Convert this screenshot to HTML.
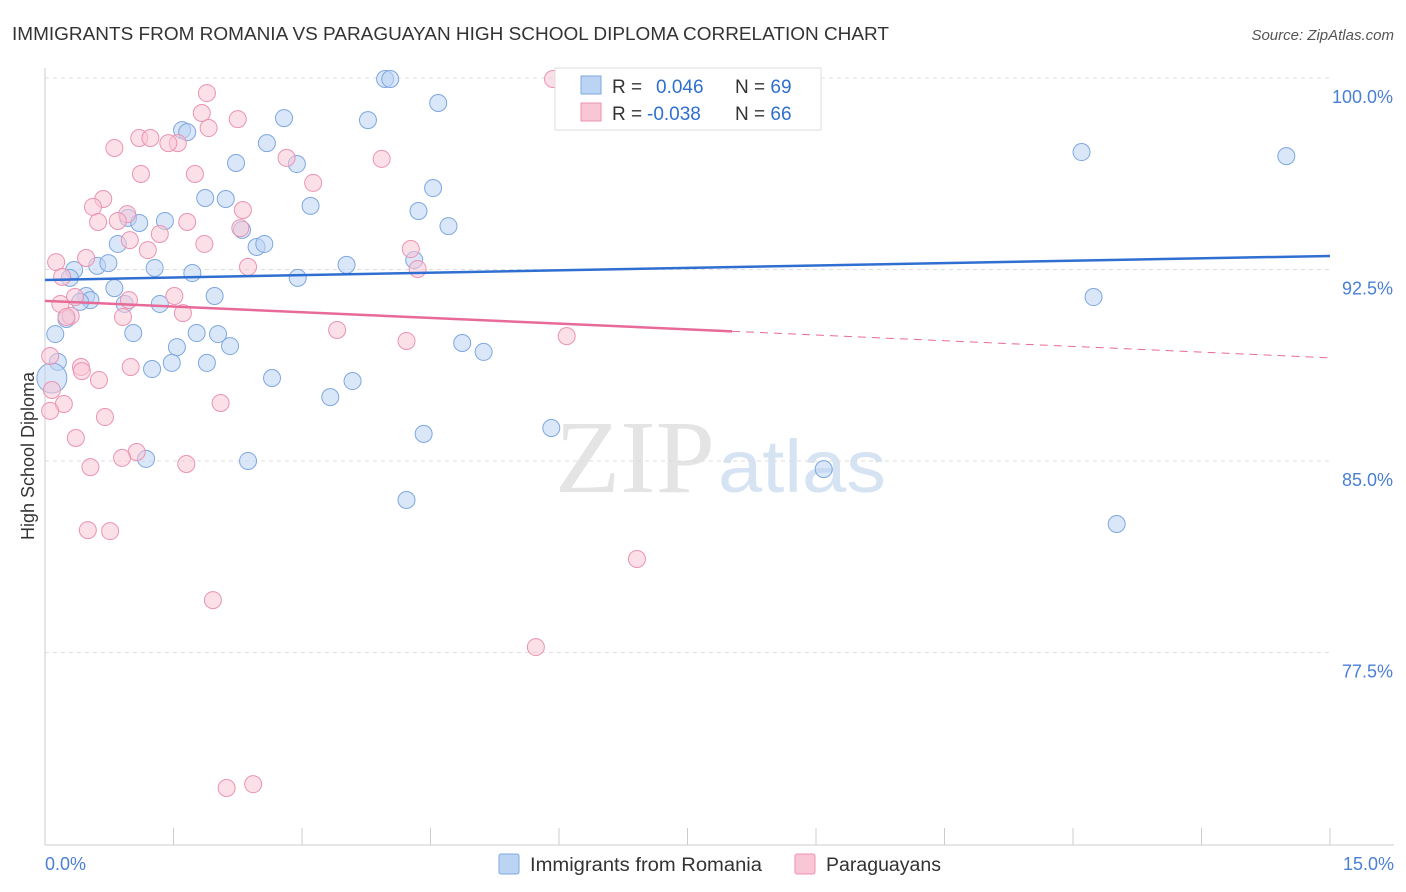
<!DOCTYPE html>
<html><head><meta charset="utf-8"><style>
body{margin:0;background:#fff;font-family:"Liberation Sans",sans-serif;}
svg{display:block}
</style></head><body>
<svg id="chart" width="1406" height="892" xmlns="http://www.w3.org/2000/svg">
<text x="12" y="40" font-size="18" fill="#333" textLength="877" lengthAdjust="spacingAndGlyphs">IMMIGRANTS FROM ROMANIA VS PARAGUAYAN HIGH SCHOOL DIPLOMA CORRELATION CHART</text>
<text x="1394" y="40" font-size="15" fill="#555" font-style="italic" text-anchor="end">Source: ZipAtlas.com</text>
<g><text x="555" y="492" font-size="104" fill="#e4e4e4" textLength="160" lengthAdjust="spacingAndGlyphs" font-family="Liberation Serif,serif">ZIP</text><text x="718" y="492" font-size="74" fill="#d6e3f3" textLength="168" lengthAdjust="spacingAndGlyphs">atlas</text></g>
<g id="grid"></g><g id="axes"></g><g id="pts"></g><g id="trends"></g>
<text transform="translate(34,456) rotate(-90)" font-size="18" fill="#333" text-anchor="middle">High School Diploma</text>
<text x="45" y="870" font-size="18" fill="#4a7fd4">0.0%</text>
<text x="1394" y="870" font-size="18" fill="#4a7fd4" text-anchor="end">15.0%</text>
<g>
<rect x="555" y="68" width="266" height="62" fill="#fff" stroke="#ddd"/>
<rect x="581" y="76" width="20" height="18" fill="#bcd4f4" stroke="#7ea7e0"/>
<rect x="581" y="103" width="20" height="18" fill="#f9c6d6" stroke="#eb93b2"/>
<text x="612" y="93" font-size="19" fill="#333">R = <tspan fill="#2f6fd1" x="656">0.046</tspan><tspan x="735">N = </tspan><tspan fill="#2f6fd1">69</tspan></text>
<text x="612" y="120" font-size="19" fill="#333">R = <tspan fill="#2f6fd1" x="647">-0.038</tspan><tspan x="735">N = </tspan><tspan fill="#2f6fd1">66</tspan></text>
</g>
<g>
<rect x="499" y="854" width="20" height="20" fill="#bcd4f4" stroke="#7ea7e0" rx="2"/>
<text x="530" y="871" font-size="19" fill="#333" textLength="232" lengthAdjust="spacingAndGlyphs">Immigrants from Romania</text>
<rect x="795" y="854" width="20" height="20" fill="#f9c6d6" stroke="#eb93b2" rx="2"/>
<text x="826" y="871" font-size="19" fill="#333" textLength="115" lengthAdjust="spacingAndGlyphs">Paraguayans</text>
</g>
</svg>
<script>
const yTicks=[100,92.5,85,77.5];
const yTickLabels=["100.0%","92.5%","85.0%","77.5%"];
const xTicks=[0,1.5,3,4.5,6,7.5,9,10.5,12,13.5,15];
const blueX=[3.97,4.03,4.59,2.79,3.77,1.60,1.66,2.59,2.23,2.94,1.87,2.11,3.10,4.53,4.36,4.71,0.97,1.10,1.40,2.30,0.85,2.47,2.56,0.61,0.74,0.34,1.28,1.72,3.52,4.31,2.95,0.29,0.81,0.48,0.53,0.41,0.93,1.34,1.98,0.25,0.12,1.03,1.77,2.02,1.54,2.16,4.87,5.12,0.15,1.25,1.48,1.89,2.65,3.59,3.33,4.42,5.91,1.18,2.37,4.22,9.09,12.51,12.24,12.10,14.49,6.55,0.08];
const blueY=[99.96,99.96,99.02,98.43,98.35,97.96,97.88,97.45,96.67,96.63,95.30,95.26,94.99,95.69,94.79,94.20,94.52,94.32,94.40,94.05,93.50,93.38,93.50,92.64,92.75,92.48,92.56,92.36,92.68,92.87,92.17,92.17,91.77,91.46,91.30,91.23,91.15,91.15,91.46,90.56,89.97,90.01,90.01,89.97,89.46,89.50,89.62,89.27,88.88,88.60,88.84,88.84,88.25,88.13,87.50,86.06,86.29,85.08,85.00,83.47,84.68,82.53,91.42,97.10,96.94,98.43,88.25];
const pinkX=[5.93,1.89,1.83,2.25,1.91,1.10,1.23,1.55,1.44,0.81,2.82,3.93,1.12,1.75,3.13,0.68,0.56,2.31,0.96,0.62,0.85,1.66,2.28,0.99,1.86,1.20,1.34,4.27,0.13,0.48,2.37,4.35,0.20,0.35,0.18,0.98,1.51,1.61,0.30,0.25,0.91,3.41,4.22,6.09,0.06,0.42,0.43,1.00,0.63,0.08,0.22,2.05,0.70,0.06,0.36,1.07,0.90,0.53,1.65,0.50,0.76,6.91,1.96,5.73,2.12,2.43];
const pinkY=[99.96,99.41,98.63,98.39,98.04,97.65,97.65,97.45,97.45,97.26,96.87,96.83,96.24,96.24,95.89,95.26,94.95,94.83,94.67,94.36,94.40,94.36,94.12,93.65,93.50,93.26,93.89,93.30,92.79,92.95,92.60,92.52,92.21,91.42,91.15,91.30,91.46,90.79,90.68,90.64,90.64,90.13,89.70,89.89,89.11,88.68,88.52,88.68,88.17,87.78,87.23,87.27,86.72,86.96,85.90,85.35,85.12,84.76,84.88,82.29,82.25,81.16,79.55,77.71,72.19,72.34];
const blueTrend=[92.09,93.03];
const pinkTrend=[91.27,89.04];
const pinkSolidEnd=8.02;
const NS="http://www.w3.org/2000/svg";
const xs=v=>45+v/15*1285;
const ys=v=>78+(100-v)*25.53;
function mk(p,t,a){const e=document.createElementNS(NS,t);for(const k in a)e.setAttribute(k,a[k]);p.appendChild(e);return e;}
const grid=document.getElementById('grid'),axes=document.getElementById('axes'),pts=document.getElementById('pts'),tr=document.getElementById('trends');
yTicks.forEach((v,i)=>{
 const l=mk(grid,'line',{x1:45,x2:1330,y1:ys(v),y2:ys(v),stroke:'#ddd','stroke-dasharray':'4,4'});
 
 
 const t=mk(grid,'text',{x:1393,y:ys(v)+25,'font-size':18,fill:'#4a7fd4','text-anchor':'end'});
 t.textContent=yTickLabels[i];
 
 
});
const ax=mk(axes,'line',{x1:45,x2:45,y1:68,y2:845,stroke:'#ccc'});


const bx=mk(axes,'line',{x1:45,x2:1394,y1:845,y2:845,stroke:'#ccc'});


xTicks.forEach(v=>{
 const t=mk(axes,'line',{x1:xs(v),x2:xs(v),y1:828,y2:845,stroke:'#ccc'});
 
 
});
function dots(X,Y,fill,stroke,name){
 X.forEach((x,i)=>{
  const big=(x<0.1&&name==='romania-point');
  const c=mk(pts,'circle',{cx:xs(x),cy:ys(Y[i]),r:big?15:8.5,fill:fill,'fill-opacity':0.55,stroke:stroke,'stroke-width':1});
  
  
 });
}
dots(blueX,blueY,'#bcd4f4','#7ea7e0','romania-point');
dots(pinkX,pinkY,'#f9c6d6','#eb93b2','paraguayan-point');
const bl=mk(tr,'line',{x1:xs(0),y1:ys(blueTrend[0]),x2:xs(15),y2:ys(blueTrend[1]),stroke:'#2f6fd1','stroke-width':2.5});


const pm=pinkTrend[0]+(pinkTrend[1]-pinkTrend[0])*pinkSolidEnd/15;
const pl=mk(tr,'line',{x1:xs(0),y1:ys(pinkTrend[0]),x2:xs(pinkSolidEnd),y2:ys(pm),stroke:'#e86a98','stroke-width':2.5});


const pd=mk(tr,'line',{x1:xs(pinkSolidEnd),y1:ys(pm),x2:xs(15),y2:ys(pinkTrend[1]),stroke:'#e86a98','stroke-width':1,'stroke-dasharray':'8,6'});


</script>
</body></html>
